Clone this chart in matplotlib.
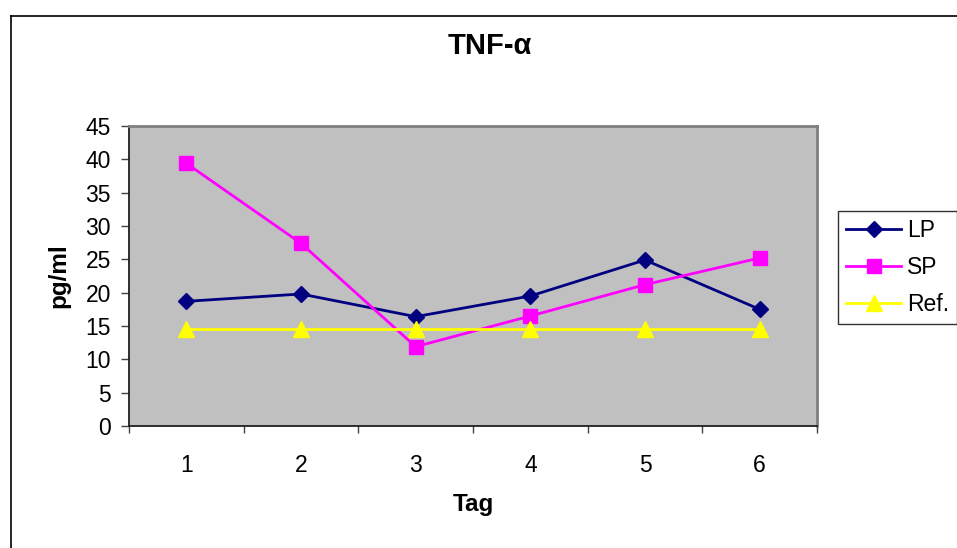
import matplotlib
matplotlib.use("Agg")
from matplotlib import pyplot as plt
from matplotlib.lines import Line2D

plt.rcParams['font.family'] = ['Liberation Sans', 'DejaVu Sans']

# Data
days = [1, 2, 3, 4, 5, 6]
lp = [18.7, 19.8, 16.4, 19.5, 24.9, 17.5]
sp = [39.4, 27.4, 11.9, 16.5, 21.2, 25.2]
ref = [14.5, 14.5, 14.5, 14.5, 14.5, 14.5]
y_ticks = [0, 5, 10, 15, 20, 25, 30, 35, 40, 45]


def main():
    fig = plt.figure(figsize=(9.57, 5.48), dpi=100)

    # outer chart frame (only left/top visible, rest runs off the picture)
    fig.add_artist(Line2D([11 / 957, 11 / 957], [0, 1 - 16 / 548],
                          color='black', lw=1.2, transform=fig.transFigure))
    fig.add_artist(Line2D([11 / 957, 1], [1 - 16 / 548, 1 - 16 / 548],
                          color='black', lw=1.2, transform=fig.transFigure))

    ax = fig.add_axes([129 / 957, 1 - 426 / 548, (817 - 129) / 957, 300 / 548])
    ax.set_facecolor('#C0C0C0')

    ax.plot(days, lp, color='#000080', marker='D', markersize=8.5, lw=2, label='LP')
    ax.plot(days, sp, color='#FF00FF', marker='s', markersize=10, lw=2, label='SP')
    ax.plot(days, ref, color='#FFFF00', marker='^', markersize=11, lw=2, label='Ref.')

    ax.set_xlim(0.5, 6.5)
    ax.set_ylim(0, 45)
    ax.set_yticks(y_ticks)
    ax.set_xticks(days)
    ax.set_xticks([d + 0.5 for d in [0] + days], minor=True)
    ax.tick_params(axis='x', which='major', length=0, pad=20, labelsize=16.5)
    ax.tick_params(axis='x', which='minor', length=5, width=1, color='#404040')
    ax.tick_params(axis='y', length=6, width=1, color='#404040', labelsize=16.5, pad=7)

    for side in ['top', 'right']:
        ax.spines[side].set_color('#808080')
        ax.spines[side].set_linewidth(2)
    for side in ['left', 'bottom']:
        ax.spines[side].set_color('#202020')
        ax.spines[side].set_linewidth(1.3)

    ax.set_xlabel('Tag', fontsize=17.5, fontweight='bold', labelpad=12)
    ax.set_ylabel('pg/ml', fontsize=17.5, fontweight='bold', labelpad=11)
    fig.text(490 / 957, 1 - 46 / 548, 'TNF-α', fontsize=21, fontweight='bold',
             ha='center', va='center')

    leg = ax.legend(loc='upper left', bbox_to_anchor=(838 / 957, 1 - 211 / 548),
                    bbox_transform=fig.transFigure, fontsize=16.5, frameon=True,
                    fancybox=False, edgecolor='black', handlelength=2.4,
                    handletextpad=0.25, borderpad=0.35, labelspacing=0.62,
                    borderaxespad=0)
    leg.get_frame().set_linewidth(1)

    fig.savefig('out.png', dpi=100)


if __name__ == "__main__":
    main()
